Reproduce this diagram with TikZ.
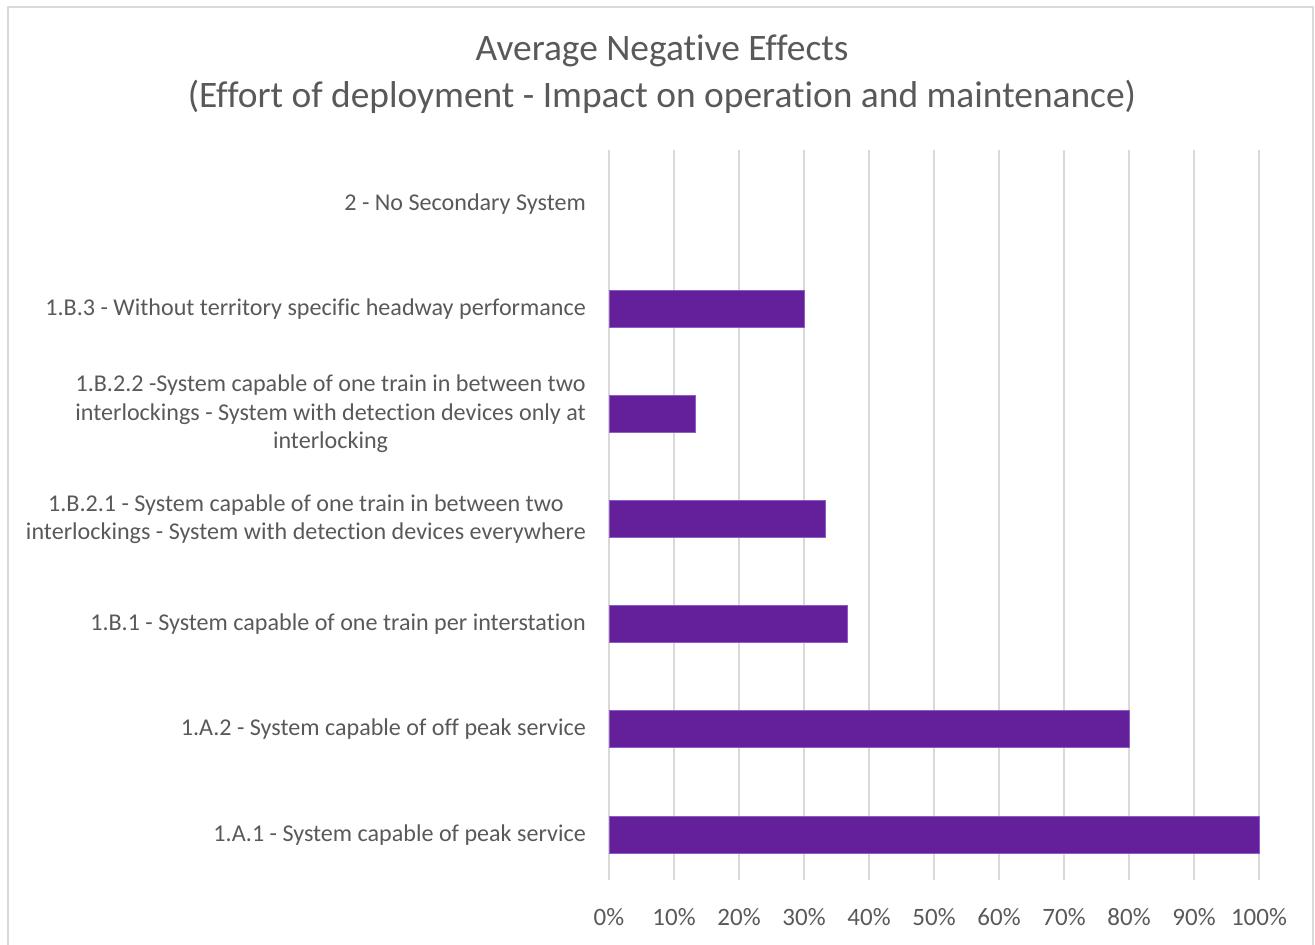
\documentclass[tikz,border=0pt]{standalone}
\usepackage{fontspec}
\setmainfont[Ligatures=NoCommon]{Carlito}
\usepackage{tikz}
\definecolor{barpurple}{HTML}{64209A}
\definecolor{baredge}{HTML}{8E5CC2}
\definecolor{gridgray}{HTML}{D9D9D9}
\definecolor{textgray}{HTML}{595959}
\definecolor{framegray}{HTML}{D9D9D9}
\tikzset{
  catlabel/.style={anchor=east, align=center, text=textgray, inner sep=0pt,
    font=\fontsize{24.1}{28.5}\selectfont},
  ticklabel/.style={text=textgray, inner sep=0pt, font=\fontsize{25}{28}\selectfont},
  bar/.style={fill=barpurple, draw=baredge, line width=0.8pt}
}
\begin{document}
\begin{tikzpicture}[x=1pt, y=-1pt]
            \useasboundingbox (0,0) rectangle (1315,945);
            \draw[framegray, line width=1.5pt] (8,960) -- (8,7) -- (1313,7) -- (1313,960);
            % title
            \node[text=textgray, font=\fontsize{37.4}{47}\selectfont, align=center] (title) at (662,74)
                {Average Negative Effects\\(Effort of deployment - Impact on operation and maintenance)};
            % grid and ticks
            \foreach \p in {0,10,...,100} {
                \draw[gridgray, line width=1.5pt] (609+6.5*\p,150) -- (609+6.5*\p,880);
                \node[ticklabel] (tick\p) at (609+6.5*\p,917) {\p\%};
            }
            % bars
            \fill[bar] (609,290) rectangle (609+6.5*30,327);
            \fill[bar] (609,395) rectangle (609+6.5*13.33,432);
            \fill[bar] (609,500) rectangle (609+6.5*33.33,537);
            \fill[bar] (609,605) rectangle (609+6.5*36.67,642);
            \fill[bar] (609,710) rectangle (609+6.5*80,747);
            \fill[bar] (609,816) rectangle (609+6.5*100,853);
            % category labels
            \node[catlabel] (cat2) at (586,204) {2 - No Secondary System};
            \node[catlabel] (catB3) at (586,309) {1.B.3 - Without territory specific headway performance};
            \node[catlabel] (catB22) at (586,414) {1.B.2.2 -System capable of one train in between two\\interlockings - System with detection devices only at\\interlocking};
            \node[catlabel] (catB21) at (586,519) {1.B.2.1 - System capable of one train in between two\\interlockings - System with detection devices everywhere};
            \node[catlabel] (catB1) at (586,624) {1.B.1 - System capable of one train per interstation};
            \node[catlabel] (catA2) at (586,729) {1.A.2 - System capable of off peak service};
            \node[catlabel] (catA1) at (586,835) {1.A.1 - System capable of peak service};
        \end{tikzpicture}
\end{document}
